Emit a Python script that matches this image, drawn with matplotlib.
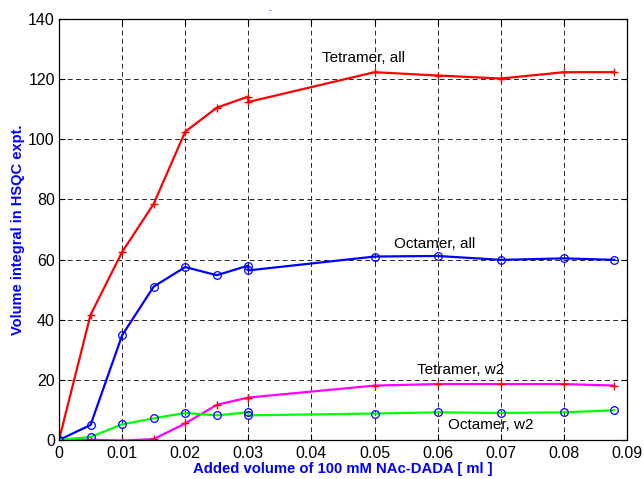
import numpy as np
import matplotlib.pyplot as plt

plt.rcParams['font.family'] = ['Liberation Sans', 'DejaVu Sans']

# added volume of NAc-DADA (ml); 0.03 was measured twice
vol = [0, 0.005, 0.01, 0.015, 0.02, 0.025, 0.03, 0.03, 0.05, 0.06, 0.07, 0.08, 0.088]

# volume integrals from the HSQC spectra
tetramer_all = [0, 41.6, 62.5, 78.5, 102.5, 110.5, 114.2, 112.4, 122.3, 121.2, 120.2, 122.3, 122.3]
octamer_all = [0, 5.0, 34.8, 51.0, 57.5, 54.8, 58.0, 56.4, 61.0, 61.2, 59.9, 60.4, 59.9]
tetramer_w2 = [0, 0.1, -0.2, 0.3, 5.5, 11.7, 14.1, 14.1, 18.1, 18.6, 18.6, 18.6, 18.1]
octamer_w2 = [0, 1.0, 5.2, 7.2, 9.0, 8.2, 9.2, 8.2, 8.8, 9.2, 9.0, 9.2, 9.9]

fig = plt.figure(figsize=(6.44, 4.79), dpi=100)
ax = fig.add_axes([0.0916, 0.0814, 0.882, 0.879])

# line colour first, then the markers on top
ax.plot(vol, tetramer_all, '-', color='red', lw=1.6)
ax.plot(vol, tetramer_all, '+', color='red', ms=6, mew=1)
ax.plot(vol, octamer_all, '-', color='blue', lw=1.6)
ax.plot(vol, octamer_all, 'o', mfc='none', mec='blue', ms=5.5, mew=0.9)
ax.plot(vol, tetramer_w2, '-', color='magenta', lw=1.6)
ax.plot(vol, tetramer_w2, '+', color='red', ms=6, mew=1)
ax.plot(vol, octamer_w2, '-', color='lime', lw=1.6)
ax.plot(vol, octamer_w2, 'o', mfc='none', mec='blue', ms=5.5, mew=0.9)

ax.text(0.0483, 127, 'Tetramer, all', fontsize=11, ha='center', va='center')
ax.text(0.0595, 65.2, 'Octamer, all', fontsize=11, ha='center', va='center')
ax.text(0.0636, 23.3, 'Tetramer, w2', fontsize=11, ha='center', va='center')
ax.text(0.0684, 5.0, 'Octamer, w2', fontsize=11, ha='center', va='center')

ax.set_xlim(0, 0.09)
ax.set_ylim(0, 140)
ax.set_xticks(np.arange(0, 0.0901, 0.01))
ax.set_xticklabels(['0', '0.01', '0.02', '0.03', '0.04', '0.05', '0.06', '0.07', '0.08', '0.09'])
ax.set_yticks(np.arange(0, 141, 20))
ax.tick_params(direction='in', length=4, width=0.8, labelsize=11.5,
               top=True, right=True)
ax.tick_params(axis='x', pad=4)
ax.tick_params(axis='y', pad=3)
ax.grid(True, color='black', linestyle=(0, (5, 3.5)), linewidth=0.7, alpha=0.85)
for s in ax.spines.values():
    s.set_linewidth(0.9)

ax.set_xlabel('Added volume of 100 mM NAc-DADA [ ml ]', color='blue',
              fontsize=10.7, fontweight='bold', labelpad=1)
ax.set_ylabel('Volume integral in HSQC expt.', color='blue',
              fontsize=10.5, fontweight='bold', labelpad=2)
fig.text(270 / 644, 1 - 11 / 479, '-', color='blue', fontsize=6, ha='center', va='center')

fig.savefig('out.png', dpi=100)
